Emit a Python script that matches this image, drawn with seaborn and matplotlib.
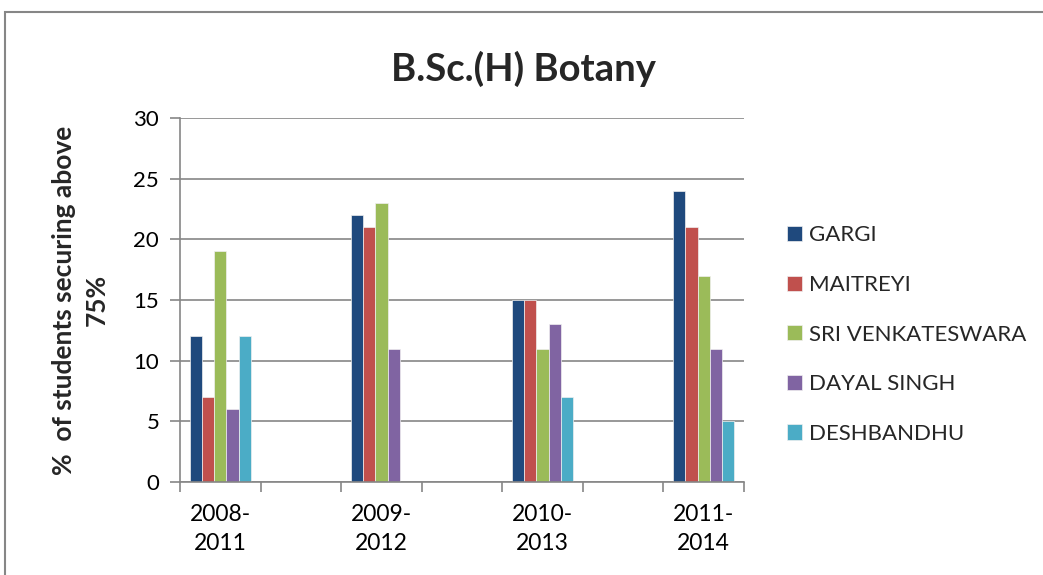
import numpy as np
import pandas as pd
import matplotlib
matplotlib.use("Agg")
import matplotlib.pyplot as plt
from matplotlib.patches import Rectangle
import seaborn as sns

# ---- data ----
periods = ["2008-\n2011", "2009-\n2012", "2010-\n2013", "2011-\n2014"]
colleges = ["GARGI", "MAITREYI", "SRI VENKATESWARA", "DAYAL SINGH", "DESHBANDHU"]
gargi = [12, 22, 15, 24]
maitreyi = [7, 21, 15, 21]
sri_venkateswara = [19, 23, 11, 17]
dayal_singh = [6, 11, 13, 11]
deshbandhu = [12, np.nan, 7, 5]
colors = ["#1F497D", "#C0504D", "#9BBB59", "#8064A2", "#4BACC6"]

series = [gargi, maitreyi, sri_venkateswara, dayal_singh, deshbandhu]
rows = []
for c, vals in zip(colleges, series):
    for p, v in zip(periods, vals):
        rows.append({"period": p, "college": c, "value": v})
df = pd.DataFrame(rows)

# category order with empty slots between periods
order = [periods[0], " ", periods[1], "  ", periods[2], "   ", periods[3]]

sns.set_theme(style="white")
plt.rcParams["font.family"] = ["Lato", "DejaVu Sans"]

fig = plt.figure(figsize=(10.43, 5.75), dpi=100)
ax = fig.add_axes([0.1726, 0.1617, 0.7133 - 0.1726, 0.7948 - 0.1617])

sns.barplot(data=df, x="period", y="value", hue="college", order=order,
            hue_order=colleges, palette=colors, saturation=1, width=0.76, gap=0,
            edgecolor="#f0f0f0", linewidth=0.5, ax=ax, legend=True)

ax.set_xlim(-0.5, 6.5)
ax.set_ylim(0, 30)
ax.set_yticks(range(0, 31, 5))
ax.yaxis.grid(True, color="#868686", linewidth=1.2)
ax.set_axisbelow(True)

for s in ["top", "right"]:
    ax.spines[s].set_visible(False)
for s in ["left", "bottom"]:
    ax.spines[s].set_color("#868686")
    ax.spines[s].set_linewidth(1.2)

ax.set_xticks([0, 2, 4, 6])
ax.set_xticklabels(periods, fontsize=16.5, linespacing=1.45)
ax.set_xticks(np.arange(-0.5, 7, 1), minor=True)
ax.tick_params(axis="x", which="major", length=0, pad=16)
ax.tick_params(axis="x", which="minor", length=7, width=1.2, color="#868686", bottom=True)
ax.tick_params(axis="y", length=7, width=1.2, color="#868686", left=True, labelsize=16, pad=8)
for t in ax.get_xticklabels() + ax.get_yticklabels():
    t.set_color("black")

ax.set_xlabel("")
ax.set_ylabel("%  of students securing above\n75%", fontsize=19, fontweight="bold",
              linespacing=1.4, labelpad=18)

fig.text(0.5015, 0.88, "B.Sc.(H) Botany", ha="center", va="center",
         fontsize=27.5, fontweight="bold")

leg = ax.legend(loc="center left", bbox_to_anchor=(1.076, 0.405), frameon=False,
                fontsize=16, handlelength=0.68, handleheight=0.68,
                handletextpad=0.3, labelspacing=1.33, borderpad=0, borderaxespad=0)

fig.patches.append(Rectangle((5 / 1043, -0.1), 1.2, 1.1 - 12 / 575,
                             transform=fig.transFigure, fill=False,
                             edgecolor="#868686", linewidth=1.5))

fig.savefig("out.png", dpi=100)
